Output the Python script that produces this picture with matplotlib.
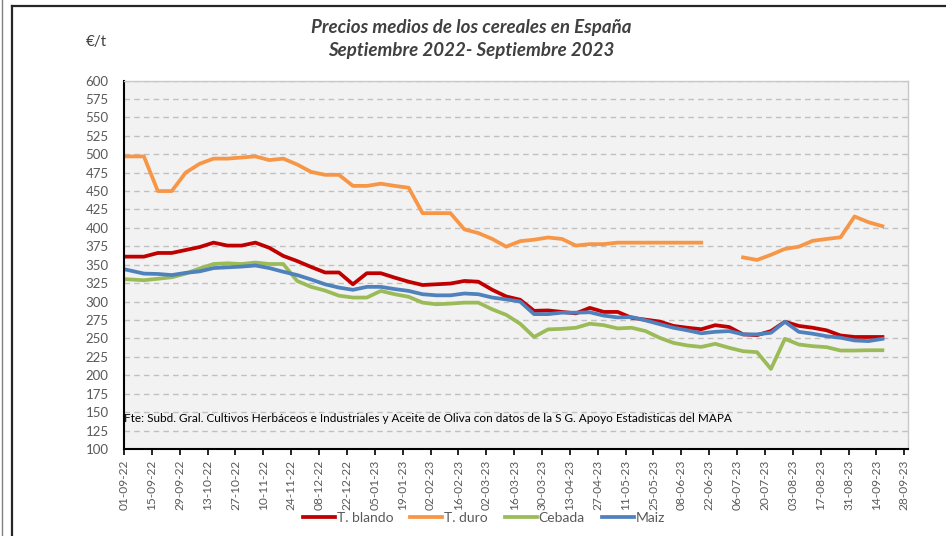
import numpy as np
import pandas as pd
import matplotlib
matplotlib.use("Agg")
import matplotlib.pyplot as plt
import matplotlib.dates as mdates
from matplotlib.lines import Line2D

plt.rcParams['font.family'] = ['Lato', 'DejaVu Sans']

# first point on 01-09-22, then weekly from 11-09-22
dates = [pd.Timestamp("2022-09-01")] + list(pd.date_range("2022-09-11", periods=54, freq="7D"))

t_blando = [361, 361, 366, 366, 370, 374, 380, 376, 376, 380, 373, 362, 355, 347,
            339.5, 339.5, 323.5, 338.5, 338.5, 332.5, 327, 322.5, 323.5, 324.5, 328, 327,
            316, 307, 302.5, 287.5, 288, 286, 284, 291.5, 286, 286, 278, 275.5, 273, 267,
            264.5, 262.5, 268, 265.5, 255.5, 254.5, 260, 272.7, 267, 264.5, 261, 254, 252,
            252, 252]
t_duro = [497, 497, 450, 450, 475, 487, 494, 494, 495.5, 497, 492, 494, 486, 476,
          472, 472, 457, 457, 460, 457, 454.5, 420, 420, 420, 398, 393,
          385, 374.5, 382, 384, 387, 385, 376, 378, 378, 380, 380, 380, 380, 380,
          380, 380, np.nan, np.nan, 360, 356.5, 363.5, 371.5, 374.5, 382.5, 385, 387.3, 415.5,
          407.7, 402.3]
cebada = [330.5, 329, 331, 333, 338, 345, 351, 352, 351, 353, 351, 351, 328, 320,
          315, 308, 305.5, 305.5, 314.5, 310, 306.5, 298.6, 296.4, 297.3, 298.6, 298.6,
          289.5, 282, 270, 252, 262.3, 263, 264.5, 270, 268, 263.6, 264.5, 260, 251, 244,
          240.5, 238.5, 242.7, 237.3, 232.7, 231.4, 208.6, 249.5, 241.8, 239.5, 238.2, 233.6, 233.6,
          234, 234]
maiz = [344, 338, 337.5, 336, 339, 341, 345.5, 346.5, 347.5, 349, 345.5, 340.5, 336, 330,
        323.5, 319, 316, 320, 320, 317, 314.5, 310, 308.5, 308.5, 311, 310,
        305.5, 303, 300, 283, 283, 285, 285, 285.5, 281, 278.5, 279, 274.5, 269.5, 264.5,
        261, 257, 259, 260, 255.5, 255.5, 257.7, 272.7, 259, 256.4, 253, 251, 247.3,
        246.4, 249.5]

series = [("T. blando", t_blando, "#c00000"),
          ("T. duro", t_duro, "#f79646"),
          ("Cebada", cebada, "#9bbb59"),
          ("Maiz", maiz, "#4f81bd")]

title = "Precios medios de los cereales en España\nSeptiembre 2022- Septiembre 2023"
source = ("Fte: Subd. Gral. Cultivos Herbáceos e Industriales y Aceite de Oliva "
          "con datos de la S G. Apoyo Estadisticas del MAPA")

fig = plt.figure(figsize=(9.46, 5.36), dpi=100)
ax = fig.add_axes([124 / 946, 1 - 449 / 536, (907.5 - 124) / 946, (449 - 80.5) / 536])
ax.set_facecolor("#f2f2f2")

for name, vals, col in series:
    ax.plot(dates, vals, color=col, lw=2.7, label=name, solid_joinstyle="round")

start = pd.Timestamp("2022-09-01")
ax.set_xlim(start, start + pd.Timedelta(days=393.6))
ax.set_ylim(100, 600)
ax.set_yticks(np.arange(100, 601, 25))
ticks = pd.date_range(start, periods=29, freq="14D")
ax.set_xticks(ticks)
ax.xaxis.set_major_formatter(mdates.DateFormatter("%d-%m-%y"))
ax.tick_params(axis="x", rotation=90, length=4, width=1.2, pad=4,
               labelsize=8.6, labelcolor="#595959", color="black")
ax.tick_params(axis="y", length=0, pad=11, labelsize=9.5, labelcolor="#595959")

ax.grid(axis="y", color="#c0c0c0", linestyle=(0, (4, 3)), lw=1)
ax.set_axisbelow(True)
for s in ["top", "right"]:
    ax.spines[s].set_color("#c8c8c8")
    ax.spines[s].set_linewidth(1)
for s in ["left", "bottom"]:
    ax.spines[s].set_color("black")
    ax.spines[s].set_linewidth(1.5)

ax.text(0.0, 141, source, transform=ax.get_yaxis_transform(), fontsize=8.5,
        color="black", va="center", ha="left")

fig.text(471 / 946, 1 - 39 / 536, title, ha="center", va="center", fontsize=13.5,
         fontweight="bold", style="italic", color="#404040", linespacing=1.45)
fig.text(96 / 946, 1 - 42 / 536, "€/t", ha="center", va="center", fontsize=11,
         color="#404040")

fig.legend(loc="center", bbox_to_anchor=(484 / 946, 1 - 518 / 536), ncol=4,
           frameon=False, fontsize=10, handlelength=2.3, handletextpad=0.15,
           columnspacing=1.2, labelcolor="#595959")

# chart area frame
fig.add_artist(Line2D([12 / 946, 12 / 946], [0, 1 - 6 / 536], color="#262626", lw=1.6))
fig.add_artist(Line2D([12 / 946, 1], [1 - 6 / 536, 1 - 6 / 536], color="#262626", lw=1.6))
fig.add_artist(Line2D([2 / 946, 2 / 946], [0, 1], color="#808080", lw=1))

fig.savefig("out.png", dpi=100)
